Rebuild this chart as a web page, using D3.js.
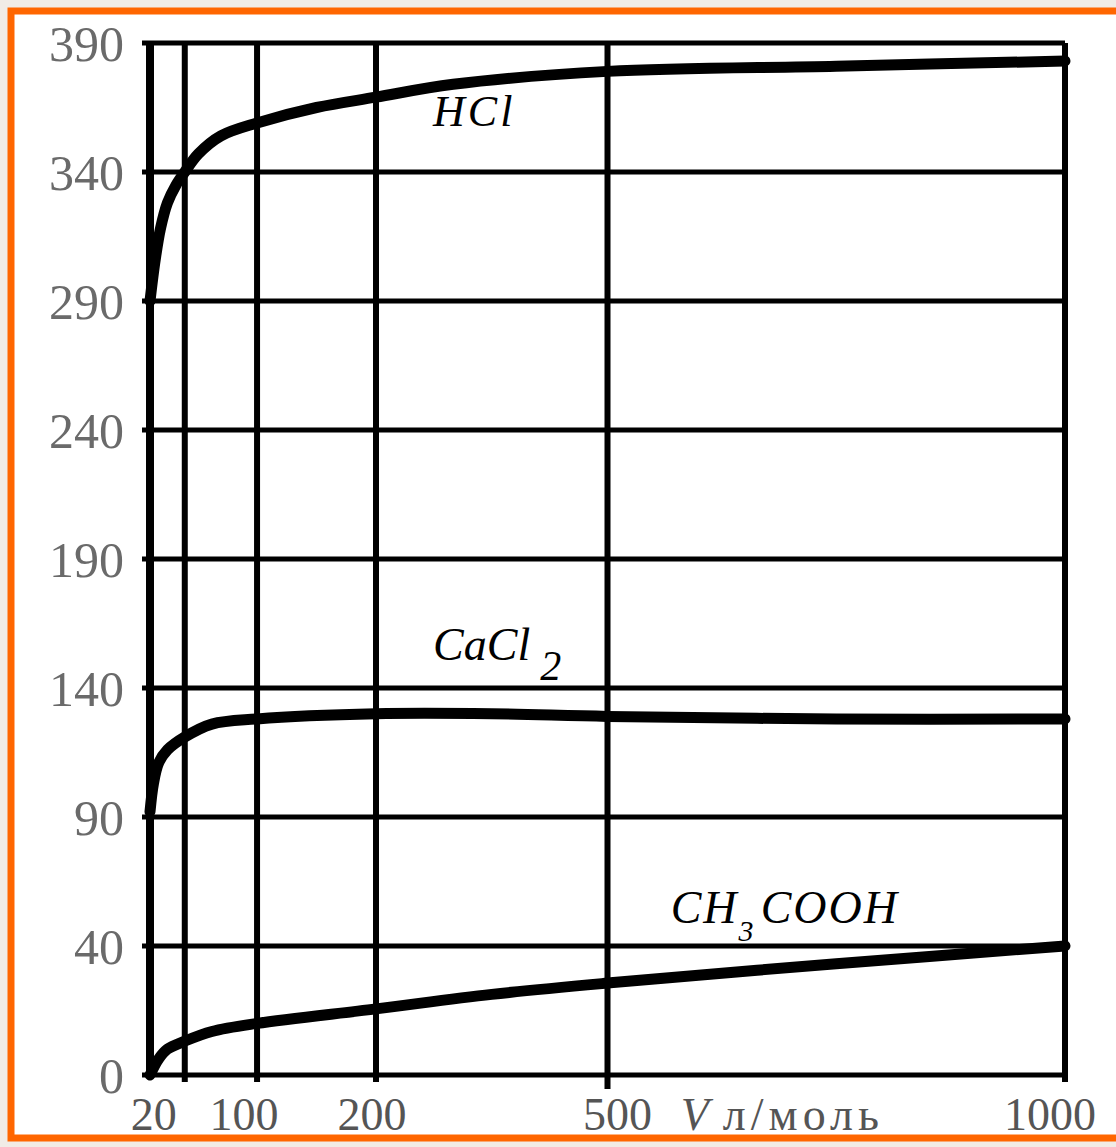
<!DOCTYPE html>
<html>
<head>
<meta charset="utf-8">
<script src="https://cdn.jsdelivr.net/npm/d3@7"></script>
<style>
  html, body { margin: 0; padding: 0; background: #f1ece6; }
  svg { display: block; }
</style>
</head>
<body>
<script>
// values: V (l/mol) against molar conductivity
const yTicks = [0, 40, 90, 140, 190, 240, 290, 340, 390];
const xTicks = [20, 100, 200, 500, 1000];
const xLabels = ["20", "100", "200", "500", "1000"];

const hclV   = [0, 3, 6, 10, 15, 20, 35, 60, 100, 150, 200, 300, 500, 750, 1000];
const hclL   = [290, 306, 318, 328, 335, 340, 347, 354, 359, 365, 369, 374, 379, 381, 383];

const cacl2V = [0, 2, 5, 10, 20, 50, 100, 200, 350, 500, 750, 1000];
const cacl2L = [92, 103, 111, 116, 121, 126, 128, 130, 130, 129, 128, 128];

const aceticV = [0, 5, 10, 20, 50, 100, 200, 350, 500, 750, 1000];
const aceticL = [0, 5, 8, 10.5, 13.5, 16, 20.5, 25, 28.5, 34.5, 40];

const seriesNames = ["HCl", "CaCl", "CH", "COOH"];

const canvWidth = 1116, canvHeight = 1147;
const margin = {top: 43, left: 150, right: 51, bottom: 72};
const width = canvWidth - margin.left - margin.right;
const height = canvHeight - margin.top - margin.bottom;

const svg = d3.select("body").append("svg")
    .attr("width", canvWidth)
    .attr("height", canvHeight);

// orange frame, cut off on the right like the scan
svg.append("rect")
    .attr("x", 11).attr("y", 11)
    .attr("width", 1200).attr("height", 1127)
    .attr("fill", "#ffffff")
    .attr("stroke", "#ff6600")
    .attr("stroke-width", 7);

const g = svg.append("g")
    .attr("transform", `translate(${margin.left},${margin.top})`);

// the hand drawn axes are not uniform, so both scales are piecewise
const xStops = [0, 0.038, 0.117, 0.247, 0.5, 1];
const xScale = d3.scaleLinear()
    .domain([0].concat(xTicks))
    .range(xStops.map(f => f * width));

const yScale = d3.scaleLinear()
    .domain(yTicks)
    .range(yTicks.map((d, i) => height - i * height / (yTicks.length - 1)));

// horizontal grid
g.selectAll(".hgrid")
    .data(yTicks)
    .enter().append("line")
    .attr("x1", -8).attr("x2", width)
    .attr("y1", d => yScale(d)).attr("y2", d => yScale(d))
    .attr("stroke", "#000").attr("stroke-width", 5);

// vertical grid
g.selectAll(".vgrid")
    .data(xTicks)
    .enter().append("line")
    .attr("x1", d => xScale(d)).attr("x2", d => xScale(d))
    .attr("y1", 0).attr("y2", d => d === 500 ? height + 14 : height + 7)
    .attr("stroke", "#000").attr("stroke-width", 6);

// left axis line
g.append("line")
    .attr("x1", 0).attr("x2", 0)
    .attr("y1", -2).attr("y2", height + 3)
    .attr("stroke", "#000").attr("stroke-width", 8);

// y tick labels
g.selectAll(".ylab")
    .data(yTicks)
    .enter().append("text")
    .attr("x", -26)
    .attr("y", d => yScale(d))
    .attr("dy", "0.35em")
    .attr("text-anchor", "end")
    .attr("font-family", "Liberation Serif, serif")
    .attr("font-size", "50px")
    .attr("fill", "#6a6a6a")
    .text(d => d);

// x tick labels
g.selectAll(".xlab")
    .data(xTicks)
    .enter().append("text")
    .attr("x", (d, i) => xScale(d) + (i === 0 ? -31 : i === 1 ? -13 : i === 3 ? 10 : i === 4 ? -15 : -4))
    .attr("y", height + 55)
    .attr("text-anchor", "middle")
    .attr("font-family", "Liberation Serif, serif")
    .attr("font-size", "46px")
    .attr("fill", "#555")
    .text((d, i) => xLabels[i]);

const unit = g.append("text")
    .attr("x", xScale(580))
    .attr("y", height + 55)
    .attr("font-family", "Liberation Serif, serif")
    .attr("font-size", "46px")
    .attr("fill", "#555");
unit.append("tspan").attr("font-style", "italic").text("V");
unit.append("tspan").attr("dx", 14).attr("letter-spacing", "5px").text("л/моль");

// curves
const line = d3.line()
    .x(d => xScale(d[0]))
    .y(d => yScale(d[1]))
    .curve(d3.curveCatmullRom.alpha(0.5));

const series = [
    d3.zip(hclV, hclL),
    d3.zip(cacl2V, cacl2L),
    d3.zip(aceticV, aceticL)
];

g.selectAll(".curve")
    .data(series)
    .enter().append("path")
    .attr("d", line)
    .attr("fill", "none")
    .attr("stroke", "#000")
    .attr("stroke-width", 11)
    .attr("stroke-linecap", "round")
    .attr("stroke-linejoin", "round");

// curve labels
const labelStyle = sel => sel
    .attr("font-family", "Liberation Serif, serif")
    .attr("font-style", "italic")
    .attr("font-size", "46px")
    .attr("fill", "#000");

g.append("text").call(labelStyle)
    .attr("x", xScale(274)).attr("y", yScale(358))
    .attr("font-size", "44px")
    .attr("letter-spacing", "3px")
    .text(seriesNames[0]);

const cacl = g.append("text").call(labelStyle)
    .attr("x", xScale(274)).attr("y", yScale(151));
cacl.append("tspan").text(seriesNames[1]);
cacl.append("tspan").attr("dx", 10).attr("dy", 20).attr("font-size", "42px").text("2");

// CH3 and COOH as separate texts so the subscript does not collide
const chX = xScale(569), chY = yScale(49);
const ch = g.append("text").call(labelStyle)
    .attr("x", chX).attr("y", chY)
    .attr("letter-spacing", "2px");
ch.append("tspan").text(seriesNames[2]);
ch.append("tspan").attr("dy", 18).attr("font-size", "30px").text("3");

g.append("text").call(labelStyle)
    .attr("x", chX + 90).attr("y", chY)
    .attr("letter-spacing", "2px")
    .text(seriesNames[3]);
</script>
</body>
</html>
